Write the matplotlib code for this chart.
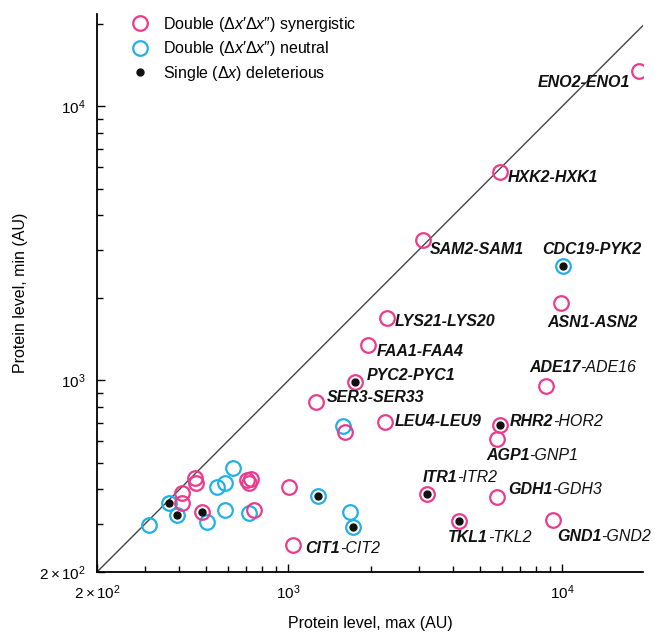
import matplotlib
matplotlib.use("Agg")
import matplotlib.pyplot as plt
from matplotlib.ticker import FixedLocator, LogLocator, NullFormatter
from matplotlib.lines import Line2D

plt.rcParams['font.family'] = ['Liberation Sans', 'DejaVu Sans']
plt.rcParams['mathtext.fontset'] = 'custom'
plt.rcParams['mathtext.rm'] = 'Liberation Sans'
plt.rcParams['mathtext.it'] = 'Liberation Sans:italic'
plt.rcParams['mathtext.bf'] = 'Liberation Sans:bold'

PINK = '#ec3a8c'
CYAN = '#22b0e8'

# labelled gene pairs: bold part, plain part, max level, min level, class
pair_bold = ["ENO2-ENO1", "HXK2-HXK1", "SAM2-SAM1", "CDC19-PYK2", "ASN1-ASN2",
             "LYS21-LYS20", "FAA1-FAA4", "ADE17", "PYC2-PYC1", "SER3-SER33",
             "LEU4-LEU9", "RHR2", "AGP1", "ITR1", "GDH1", "TKL1", "GND1", "CIT1"]
pair_rest = ["", "", "", "", "", "", "", "-ADE16", "", "", "",
             "-HOR2", "-GNP1", "-ITR2", "-GDH3", "-TKL2", "-GND2", "-CIT2"]
pair_x = [19000, 5910, 3100, 10050, 9870, 2290, 1950, 8710, 1750, 1260,
          2250, 5910, 5770, 3200, 5770, 4190, 9230, 1040]
pair_y = [13470, 5770, 3260, 2620, 1920, 1690, 1345, 955, 986, 834,
          705, 689, 611, 385, 376, 307, 310, 251]
pair_cls = ["syn", "syn", "syn", "neu", "syn", "syn", "syn", "syn", "syn", "syn",
            "syn", "syn", "syn", "syn", "syn", "syn", "syn", "syn"]

# unlabelled pairs
syn_x = [1607, 456, 460, 705, 729, 717, 1004, 409, 409, 483, 748]
syn_y = [649, 441, 423, 433, 437, 423, 409, 388, 357, 331, 337]
neu_x = [1580, 627, 548, 587, 366, 1282, 392, 587, 717, 504, 310, 1676, 1719]
neu_y = [682, 479, 409, 423, 357, 379, 323, 337, 328, 304, 297, 331, 292]

# single deletion deleterious
del_x = [10050, 1750, 5910, 3200, 4190, 366, 1282, 392, 1719, 483]
del_y = [2620, 986, 689, 385, 307, 357, 379, 323, 292, 331]

# label placement (pixels from point), alignment
lab_off = [(-9, -12), (8, -6), (7, -10), (-21, 16), (-13, -20), (8, -4), (9, -6),
           (-17, 18), (12, 7), (11, 4), (10, 0), (10, 3), (-11, -16), (-4, 17),
           (11, 7), (-11, -17), (4, -17), (12, -4)]
lab_ha = ["right"] + ["left"] * 17

fig = plt.figure(figsize=(6.55, 6.33), dpi=100)
ax = fig.add_axes([0.1481, 0.0964, 0.8336, 0.8815])
ax.set_xscale('log')
ax.set_yscale('log')
ax.set_xlim(200, 19700)
ax.set_ylim(200, 21700)

ax.plot([200, 22000], [200, 22000], color='#444444', lw=1.0, zorder=1)

mk = dict(marker='o', ms=10.5, mfc='none', mew=1.6, ls='none', zorder=3)
ax.plot(neu_x, neu_y, mec=CYAN, **mk)
ax.plot(syn_x, syn_y, mec=PINK, **mk)
for x, y, c in zip(pair_x, pair_y, pair_cls):
    ax.plot([x], [y], mec=PINK if c == "syn" else CYAN, **mk)
ax.plot(del_x, del_y, marker='o', ms=5, color='#111111', ls='none', zorder=4)

for b, r, x, y, off, ha in zip(pair_bold, pair_rest, pair_x, pair_y, lab_off, lab_ha):
    t = ax.annotate(b, (x, y), xytext=off, textcoords='offset pixels', ha=ha, va='center',
                    fontsize=11.5, fontweight='bold', fontstyle='italic', color='#111111')
    if r:
        ax.annotate(r, xy=(1, 0.5), xycoords=t, ha='left', va='center',
                    fontsize=11.5, fontstyle='italic', color='#111111')

for s in ['top', 'right']:
    ax.spines[s].set_visible(False)
for s in ['left', 'bottom']:
    ax.spines[s].set_linewidth(1.3)

for axis in (ax.xaxis, ax.yaxis):
    axis.set_major_locator(FixedLocator([200, 1000, 10000]))
    axis.set_minor_locator(LogLocator(base=10, subs=range(2, 10)))
    axis.set_minor_formatter(NullFormatter())
ax.set_xticklabels([r'$2\times10^2$', r'$10^3$', r'$10^4$'])
ax.set_yticklabels([r'$2\times10^2$', r'$10^3$', r'$10^4$'])
ax.tick_params(which='both', direction='in', labelsize=11, width=1.0)
ax.tick_params(which='major', length=6, pad=8)
ax.tick_params(which='minor', length=4)

ax.set_xlabel('Protein level, max (AU)', fontsize=11.5, labelpad=10)
ax.set_ylabel('Protein level, min (AU)', fontsize=11.5, labelpad=8)

handles = [Line2D([], [], marker='o', ms=10.5, mfc='none', mec=PINK, mew=1.6, ls='none'),
           Line2D([], [], marker='o', ms=10.5, mfc='none', mec=CYAN, mew=1.6, ls='none'),
           Line2D([], [], marker='o', ms=5, color='#111111', ls='none')]
labels = ["Double (Δ$x$′Δ$x$″) synergistic",
          "Double (Δ$x$′Δ$x$″) neutral",
          "Single (Δ$x$) deleterious"]
ax.legend(handles, labels, loc='upper left', bbox_to_anchor=(0.05, 1.01), frameon=False,
          fontsize=11.5, handletextpad=0.8, labelspacing=0.35, handlelength=1.2,
          borderaxespad=0)

fig.savefig('out.png', dpi=100)
